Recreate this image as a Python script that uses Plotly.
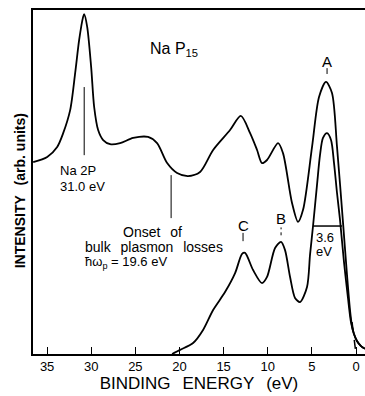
import plotly.graph_objects as go

# Upper spectrum (binding energy in eV, intensity in arb. units)
upper_ev = [36.58, 34.99, 33.86, 33.18, 32.39, 31.82, 31.37, 30.92, 30.80, 30.46, 30.01, 29.67,
            29.22, 28.65, 27.86, 26.73, 25.25, 23.56, 22.54, 21.40, 20.27, 19.03, 17.67, 16.19,
            14.27, 13.05, 12.00, 11.21, 10.65, 10.08, 8.83, 8.27, 7.25, 6.57, 6.00, 4.98, 4.19,
            3.40, 2.72, 2.15, 1.47, 1.02, 0.68, 0.45, 0.23, -0.11, -0.57, -1.02]
upper_int = [55.8, 57.3, 60.2, 64.2, 70.9, 81.7, 91.3, 98.0, 98.8, 95.1, 83.4, 71.8,
             65.1, 62.2, 61.0, 61.3, 62.8, 63.1, 61.3, 55.5, 52.6, 51.7, 52.9, 59.3,
             65.1, 69.2, 64.2, 59.3, 55.5, 56.4, 61.3, 58.4, 43.9, 38.4, 41.9, 60.2, 74.7,
             79.1, 75.9, 60.2, 38.1, 23.0, 12.8, 8.1, 5.8, 3.8, 2.3, 1.5]

# Lower spectrum
lower_ev = [20.84, 19.93, 18.46, 17.33, 16.19, 14.84, 13.70, 12.91, 12.57, 11.66, 10.65, 10.08,
            9.17, 8.49, 8.04, 7.47, 6.91, 6.34, 5.55, 5.21, 4.87, 4.42, 4.08, 3.74, 3.28, 2.83,
            2.49, 2.15, 1.81, 1.36, 0.91, 0.57, 0.23, -0.11, -0.57, -1.02]
lower_int = [0.0, 1.2, 3.2, 7.0, 12.8, 18.0, 23.5, 29.1, 29.4, 24.4, 20.6, 22.4,
             30.8, 32.6, 30.2, 22.4, 16.3, 15.1, 19.5, 28.8, 37.2, 49.1, 57.8, 62.8, 64.2, 62.2,
             55.5, 46.8, 39.0, 26.7, 16.3, 9.3, 5.8, 3.8, 2.3, 1.5]

tick_vals = [0, 5, 10, 15, 20, 25, 30, 35]
tick_text = ["0", "5", "10", "15", "20", "25", "30", "35"]

FONT = "Liberation Sans, Arial, sans-serif"
SP = "\u2002\u2009"

fig = go.Figure()
fig.add_trace(go.Scatter(x=upper_ev, y=upper_int, mode="lines",
                         line=dict(color="black", width=1.8, shape="spline", smoothing=0.8),
                         hoverinfo="skip", showlegend=False))
fig.add_trace(go.Scatter(x=lower_ev, y=lower_int, mode="lines",
                         line=dict(color="black", width=1.8, shape="spline", smoothing=0.8),
                         hoverinfo="skip", showlegend=False))

shapes = [
    dict(type="line", x0=30.8, x1=30.8, y0=57.8, y1=77.6, line=dict(color="black", width=1)),
    dict(type="line", x0=20.95, x1=20.95, y0=39.5, y1=52.0, line=dict(color="black", width=1)),
    dict(type="line", x0=12.8, x1=12.8, y0=32.8, y1=35.2, line=dict(color="black", width=1)),
    dict(type="line", x0=8.49, x1=8.49, y0=34.5, y1=36.8, line=dict(color="black", width=1, dash="dot")),
    dict(type="line", x0=3.28, x1=3.28, y0=81.4, y1=83.1, line=dict(color="black", width=1)),
    dict(type="line", x0=4.87, x1=1.59, y0=37.2, y1=37.2, line=dict(color="black", width=1.5)),
    dict(type="line", x0=0.45, x1=0.0, y0=9.3, y1=0.0, line=dict(color="black", width=1.5, dash="dash")),
]

ann = [
    dict(x=20.67, y=88.4, text="Na P<sub>15</sub>", font=dict(size=16)),
    dict(x=3.28, y=84.9, text="A", font=dict(size=15)),
    dict(x=33.75, y=53.2, text="Na 2P", xanchor="left", font=dict(size=13)),
    dict(x=33.75, y=48.8, text="31.0 eV", xanchor="left", font=dict(size=13)),
    dict(x=23.1, y=35.5, text="Onset" + SP + "of", font=dict(size=14)),
    dict(x=30.9, y=31.1, text="bulk" + SP + "plasmon" + SP + "losses", xanchor="left", font=dict(size=14)),
    dict(x=30.9, y=26.7, text="ħω<sub>p</sub> = 19.6 eV", xanchor="left", font=dict(size=13)),
    dict(x=12.8, y=37.5, text="C", font=dict(size=15)),
    dict(x=8.49, y=39.5, text="B", font=dict(size=15)),
    dict(x=3.51, y=34.0, text="3.6", font=dict(size=13)),
    dict(x=3.62, y=29.7, text="eV", font=dict(size=13)),
    dict(x=-0.04, y=0.475, xref="paper", yref="paper", textangle=-90,
         text="<b>INTENSITY" + SP + "(arb. units)</b>", font=dict(size=14)),
]
for a in ann:
    a.setdefault("xanchor", "center")
    a.setdefault("xref", "x")
    a.setdefault("yref", "y")
    a.update(showarrow=False, yanchor="middle")

fig.update_layout(
    width=365, height=396,
    margin=dict(l=33, r=0, t=10, b=42),
    paper_bgcolor="white", plot_bgcolor="white",
    font=dict(family=FONT, color="black"),
    shapes=shapes, annotations=ann,
    xaxis=dict(range=[36.6, -1.02], tickvals=tick_vals, ticktext=tick_text,
               ticks="inside", ticklen=7, tickwidth=1, tickcolor="black",
               showline=True, linecolor="black", linewidth=1.5, mirror=True,
               showgrid=False, zeroline=False, tickfont=dict(size=13),
               title=dict(text="BINDING" + SP + "ENERGY" + SP + "(eV)", font=dict(size=17), standoff=4)),
    yaxis=dict(range=[0, 100], showticklabels=False, ticks="",
               showline=True, linecolor="black", linewidth=1.5,
               showgrid=False, zeroline=False),
)

fig.write_html("out.html", config={"displayModeBar": False},
               post_script="document.body.style.margin='0';")
